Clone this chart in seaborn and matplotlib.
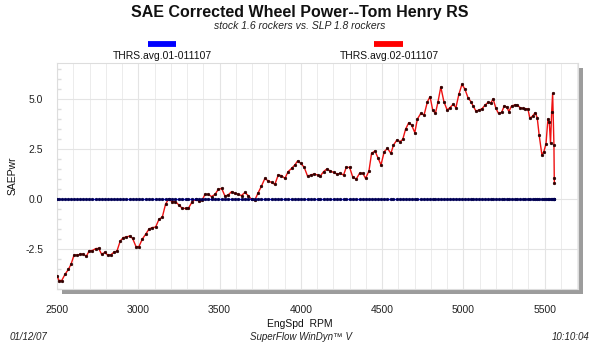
import matplotlib
matplotlib.use("Agg")
import matplotlib.pyplot as plt
from matplotlib.lines import Line2D
from matplotlib.patches import Rectangle
from matplotlib.ticker import MultipleLocator
import seaborn as sns
import pandas as pd

# ---- data ----
rpm = [2500, 2512, 2529, 2549, 2570, 2586, 2605, 2623, 2643, 2662, 2680, 2699, 2717, 2738, 2756,
       2775, 2793, 2812, 2830, 2849, 2869, 2889, 2908, 2926, 2947, 2965, 2986, 3004, 3025, 3045,
       3066, 3086, 3107, 3127, 3148, 3168, 3187, 3207, 3228, 3250, 3271, 3291, 3308, 3332, 3353,
       3373, 3394, 3410, 3431, 3451, 3472, 3492, 3513, 3533, 3553, 3574, 3594, 3615, 3635, 3656,
       3676, 3697, 3717, 3738, 3758, 3779, 3799, 3820, 3840, 3861, 3881, 3902, 3922, 3943, 3963,
       3980, 4000, 4021, 4041, 4061, 4082, 4103, 4120, 4140, 4160, 4181, 4201, 4222, 4242, 4263,
       4279, 4300, 4320, 4341, 4361, 4382, 4398, 4419, 4435, 4456, 4476, 4493, 4513, 4533, 4554,
       4570, 4591, 4611, 4627, 4644, 4664, 4681, 4701, 4717, 4738, 4758, 4779, 4795, 4811, 4828,
       4844, 4861, 4880, 4900, 4917, 4937, 4954, 4972, 4991, 5009, 5028, 5046, 5060, 5077, 5097,
       5115, 5134, 5152, 5168, 5183, 5200, 5216, 5235, 5251, 5266, 5280, 5296, 5315, 5331, 5348,
       5364, 5380, 5397, 5409, 5426, 5442, 5454, 5466, 5483, 5495, 5508, 5520, 5528, 5536, 5543,
       5549, 5557, 5559, 5560]
slp_pwr = [-3.83, -4.08, -4.08, -3.77, -3.52, -3.27, -2.80, -2.80, -2.77, -2.75, -2.87, -2.58, -2.58, -2.48, -2.47,
           -2.77, -2.67, -2.80, -2.80, -2.67, -2.60, -2.10, -1.93, -1.90, -1.85, -1.97, -2.38, -2.38, -2.00, -1.77,
           -1.50, -1.43, -1.40, -1.02, -0.90, -0.25, 0.00, -0.13, -0.13, -0.30, -0.47, -0.47, -0.47, -0.13, -0.02,
           -0.10, -0.05, 0.23, 0.23, 0.12, 0.23, 0.48, 0.53, 0.15, 0.20, 0.37, 0.28, 0.23, 0.17, 0.33,
           0.17, -0.02, -0.05, 0.32, 0.65, 1.03, 0.90, 0.83, 0.73, 1.20, 1.17, 1.03, 1.37, 1.53, 1.70,
           1.90, 1.78, 1.58, 1.15, 1.20, 1.25, 1.20, 1.15, 1.37, 1.50, 1.40, 1.33, 1.25, 1.28, 1.20,
           1.58, 1.58, 1.08, 1.00, 1.28, 1.28, 1.03, 1.40, 2.28, 2.40, 2.03, 1.70, 2.37, 2.53, 2.28,
           2.70, 2.95, 2.87, 2.98, 3.48, 3.82, 3.70, 3.32, 4.00, 4.28, 4.20, 4.87, 5.12, 4.45, 4.28,
           4.87, 5.60, 4.87, 4.45, 4.57, 4.73, 4.57, 5.23, 5.73, 5.50, 5.07, 4.87, 4.65, 4.40, 4.45,
           4.52, 4.70, 4.83, 4.80, 5.00, 4.53, 4.28, 4.33, 4.65, 4.60, 4.37, 4.65, 4.70, 4.70, 4.57,
           4.53, 4.52, 4.50, 4.03, 4.15, 4.32, 4.07, 3.20, 2.20, 2.37, 2.75, 4.00, 3.87, 2.78, 4.37,
           5.28, 2.70, 1.03, 0.78]
stock_pwr = [0.0] * len(rpm)   # baseline run: difference vs itself is zero everywhere

series_names = ["THRS.avg.01-011107", "THRS.avg.02-011107"]
x_ticks = [2500, 3000, 3500, 4000, 4500, 5000, 5500]
y_ticks = [-2.5, 0.0, 2.5, 5.0]

df_base = pd.DataFrame({"rpm": rpm, "pwr": stock_pwr})
df_slp = pd.DataFrame({"rpm": rpm, "pwr": slp_pwr})

# ---- figure ----
sns.set_theme(style="white")
plt.rcParams["font.family"] = ["Liberation Sans", "DejaVu Sans"]

W, H = 600, 343
fig = plt.figure(figsize=(6.0, 3.43), dpi=100)
L, R, T, B = 57, 578, 63, 289
ax = fig.add_axes([L / W, 1 - B / H, (R - L) / W, (B - T) / H])
ax.set_facecolor("white")

# drop shadow
fig.patches.append(Rectangle(((L + 5) / W, 1 - (B + 5) / H), (R - L) / W, (B - T) / H,
                             transform=fig.transFigure, facecolor="#9c9c9c", edgecolor="none",
                             zorder=-5))

sns.lineplot(data=df_slp, x="rpm", y="pwr", ax=ax, sort=False, estimator=None,
             color="#ee1111", linewidth=1.0, marker="o", markersize=1.7, markeredgewidth=0.6,
             markerfacecolor="#300000", markeredgecolor="#300000", zorder=3)
sns.lineplot(data=df_base, x="rpm", y="pwr", ax=ax, sort=False, estimator=None,
             color="#1010ee", linewidth=1.0, marker="o", markersize=1.7, markeredgewidth=0.6,
             markerfacecolor="#000050", markeredgecolor="#000050", zorder=4)

ax.set_xlim(2500, 5705)
ax.set_ylim(-4.5, 6.8)
ax.set_xticks(x_ticks)
ax.set_yticks(y_ticks)
ax.set_yticklabels([f"{v:.1f}" for v in y_ticks])
ax.xaxis.set_minor_locator(MultipleLocator(100))
ax.yaxis.set_minor_locator(MultipleLocator(0.5))
ax.grid(which="major", color="#e4e4e4", linewidth=0.8)
ax.grid(which="minor", axis="x", color="#ececec", linewidth=0.7)
ax.tick_params(axis="both", which="major", length=0, labelsize=7.5, colors="#222222")
ax.tick_params(axis="x", which="major", pad=11.5)
ax.tick_params(axis="y", which="major", pad=10)
ax.tick_params(axis="y", which="minor", direction="in", length=3, color="#dddddd", left=True)
ax.tick_params(axis="x", which="minor", length=0)
for s in ax.spines.values():
    s.set_color("#dddddd")
    s.set_linewidth(0.8)
ax.set_xlabel("")
ax.set_ylabel("")

# titles
fig.text(0.5, 1 - 12 / H, "SAE Corrected Wheel Power--Tom Henry RS", ha="center", va="center",
         fontsize=11.5, fontweight="bold", color="#111111")
fig.text(0.5, 1 - 26 / H, "stock 1.6 rockers vs. SLP 1.8 rockers", ha="center", va="center",
         fontsize=7.5, style="italic", color="#222222")

# legend
for (x0, x1, xc), col, name in [((148, 176, 162), "#0000ff", series_names[0]),
                                ((374, 403, 389), "#ff0000", series_names[1])]:
    fig.add_artist(Line2D([x0 / W, x1 / W], [1 - 43.5 / H, 1 - 43.5 / H], color=col,
                          linewidth=4.2, solid_capstyle="butt", transform=fig.transFigure))
    fig.text(xc / W, 1 - 56 / H, name, ha="center", va="center", fontsize=7.5, color="#111111")

# axis labels
fig.text(13 / W, 1 - 176 / H, "SAEPwr", rotation=90, ha="center", va="center",
         fontsize=7.5, color="#111111")
fig.text(0.5, 1 - 324 / H, "EngSpd  RPM", ha="center", va="center", fontsize=7.5, color="#111111")

# footer
fig.text(10 / W, 1 - 337 / H, "01/12/07", ha="left", va="center", fontsize=7, style="italic",
         color="#222222")
fig.text(301 / W, 1 - 337 / H, "SuperFlow WinDyn\u2122 V", ha="center", va="center", fontsize=7,
         style="italic", color="#222222")
fig.text(589 / W, 1 - 337 / H, "10:10:04", ha="right", va="center", fontsize=7, style="italic",
         color="#222222")

fig.savefig("out.png", dpi=100, facecolor="white")
